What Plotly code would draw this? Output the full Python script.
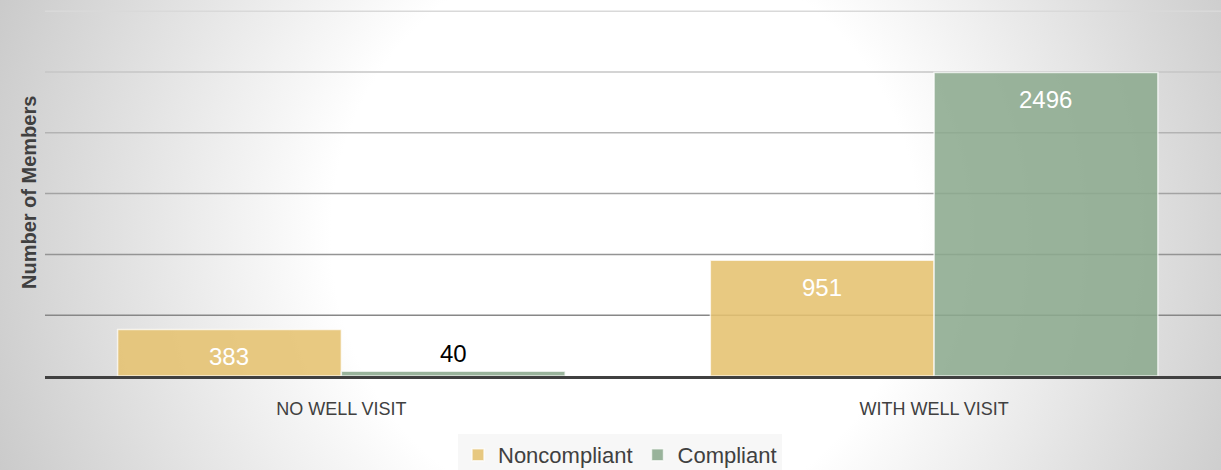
import base64
import plotly.graph_objects as go

# ---- data ----
categories = ["NO WELL VISIT", "WITH WELL VISIT"]
noncompliant = [383, 951]
compliant = [40, 2496]
series_names = ["Noncompliant", "Compliant"]
y_title = "Number of Members"
grid_values = [500, 1000, 1500, 2000, 2500, 3000]

# ---- styling ----
W, H = 1221, 470
ML, MR, MT, MB = 45, 0, 0, 94
PW, PH = W - ML - MR, H - MT - MB
colors = ["rgba(229,193,112,0.88)", "rgba(140,170,142,0.88)"]
grid_colors = ["#878787", "#949494", "#a3a3a3", "#b3b3b3", "#c6c6c6", "#d9d9d9"]
label_font = "Liberation Sans, Arial, sans-serif"
BARGAP = 0.245
bar_w = (1 - BARGAP) / 2

svg = f'''<svg xmlns="http://www.w3.org/2000/svg" width="{W}" height="{H}">
<defs><radialGradient id="g" cx="625" cy="235" r="700" gradientUnits="userSpaceOnUse">
<stop offset="0" stop-color="#ffffff"/><stop offset="0.42" stop-color="#ffffff"/>
<stop offset="1" stop-color="#c6c6c6"/></radialGradient></defs>
<rect width="{W}" height="{H}" fill="url(#g)"/></svg>'''
bg_src = "data:image/svg+xml;base64," + base64.b64encode(svg.encode()).decode()

fig = go.Figure()
for name, vals, col in zip(series_names, [noncompliant, compliant], colors):
    fig.add_trace(go.Bar(
        x=categories, y=vals, name=name,
        marker=dict(color=col, line=dict(color="rgba(255,255,255,0.7)", width=1.5)),
        hoverinfo="x+y+name",
    ))

annotations = []
for si, vals in enumerate([noncompliant, compliant]):
    off = (-bar_w / 2) if si == 0 else (bar_w / 2)
    for ci, v in enumerate(vals):
        inside = v > 200
        annotations.append(dict(
            x=ci + off, y=v, xref="x", yref="y", text=str(v), showarrow=False,
            yshift=-27 if inside else 18, xanchor="center", yanchor="middle",
            font=dict(family=label_font, size=24, color="white" if inside else "black"),
        ))

annotations.append(dict(
    x=(29 - ML) / PW, y=(PH - 193) / PH, xref="paper", yref="paper",
    text="<b>" + y_title + "</b>", textangle=-90, showarrow=False,
    xanchor="center", yanchor="middle",
    font=dict(family=label_font, size=20, color="#404040"),
))

shapes = [
    dict(type="line", xref="paper", yref="y", x0=0, x1=1, y0=gv, y1=gv,
         line=dict(color=gc, width=1.5), layer="below")
    for gv, gc in zip(grid_values, grid_colors)
]

fig.update_layout(
    width=W, height=H,
    margin=dict(l=ML, r=MR, t=MT, b=MB, pad=0, autoexpand=False),
    paper_bgcolor="white", plot_bgcolor="rgba(0,0,0,0)",
    barmode="group", bargap=BARGAP, bargroupgap=0,
    showlegend=True,
    legend=dict(orientation="h", x=(620 - ML) / PW, xanchor="center",
                y=(PH - 434) / PH, yanchor="top",
                bgcolor="rgba(246,246,246,0.85)",
                font=dict(family=label_font, size=22, color="#404040"),
                itemclick=False),
    annotations=annotations,
    shapes=shapes,
    images=[dict(source=bg_src, xref="paper", yref="paper",
                 x=-ML / PW, y=1 + MT / PH, sizex=W / PW, sizey=H / PH,
                 sizing="stretch", xanchor="left", yanchor="top", layer="below")],
    xaxis=dict(type="category", range=[-0.5, 1.484], showline=True, linecolor="#404040",
               linewidth=3, showgrid=False, ticks="", ticklabelstandoff=14,
               tickfont=dict(family=label_font, size=18, color="#404040")),
    yaxis=dict(range=[0, 3092], showticklabels=False, showgrid=False,
               zeroline=False, showline=False, ticks=""),
)

fig.write_html(
    "out.html",
    config={"displayModeBar": False},
    post_script="document.body.style.margin='0';document.body.style.overflow='hidden';",
)
